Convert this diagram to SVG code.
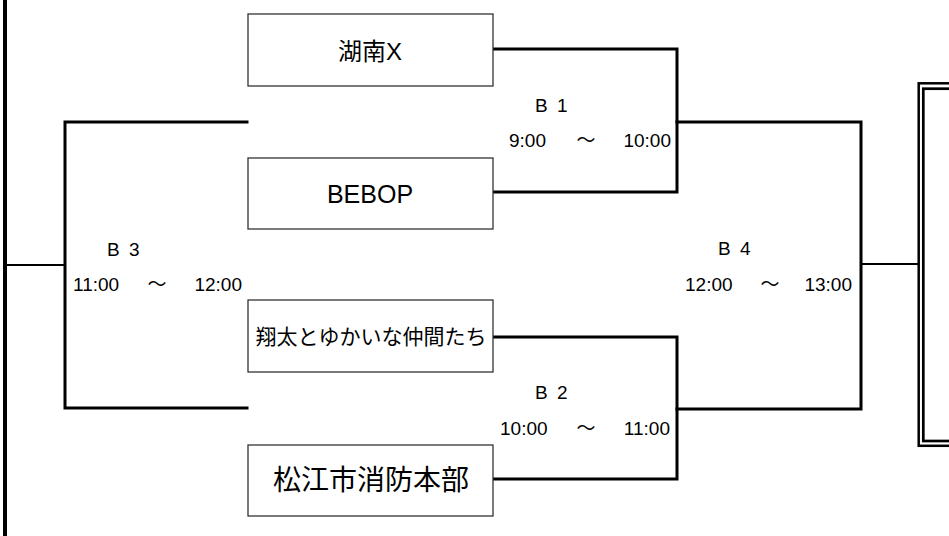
<svg xmlns="http://www.w3.org/2000/svg" width="949" height="536" viewBox="0 0 949 536">
<style>
.box{fill:#fff;stroke:#333;stroke-width:1.3}
.ln{fill:none;stroke:#000;stroke-width:3;stroke-linecap:square}
.thin{fill:none;stroke:#000;stroke-width:2}
.t{font-family:"Liberation Sans","Noto Sans CJK JP",sans-serif;fill:#000}
.lbl{font-family:"Liberation Sans","Noto Sans CJK JP",sans-serif;font-size:19px;fill:#000}
</style>
<rect width="949" height="536" fill="#fff"/>
<g id="connectors">
<line x1="5" y1="0" x2="5" y2="536" stroke="#000" stroke-width="4"/>
<polyline class="ln" points="493,49 677,49 677,192 493,192"/>
<polyline class="ln" points="493,337 677,337 677,479 493,479"/>
<polyline class="ln" points="247,122 65,122 65,408 247,408"/>
<polyline class="ln" points="677,122 861,122 861,409 677,409"/>
<line class="thin" x1="5" y1="265" x2="65" y2="265"/>
<line class="thin" x1="861" y1="264" x2="918" y2="264"/>
</g>
<g id="winner-box">
<rect x="918.7" y="83.3" width="60" height="362.5" fill="none" stroke="#000" stroke-width="2.5"/>
<rect x="923.3" y="88.7" width="60" height="352.3" fill="none" stroke="#000" stroke-width="2.7"/>
</g>
<g id="team-konan">
<rect class="box" x="248" y="14" width="245" height="72"/>
<text class="t" x="370" y="60" font-size="24" text-anchor="middle">湖南X</text>
</g>
<g id="team-bebop">
<rect class="box" x="248" y="158" width="245" height="71"/>
<text class="t" x="370" y="203" font-size="25" text-anchor="middle">BEBOP</text>
</g>
<g id="team-shota">
<rect class="box" x="248" y="300" width="245" height="72"/>
<text class="t" x="371" y="344" font-size="21" text-anchor="middle">翔太とゆかいな仲間たち</text>
</g>
<g id="team-matsue">
<rect class="box" x="248" y="445" width="245" height="71"/>
<text class="t" x="371" y="490" font-size="28" text-anchor="middle">松江市消防本部</text>
</g>
<g id="match-b1">
<text class="lbl" x="535" y="112">B <tspan dx="4">1</tspan></text>
<text class="lbl" x="509" y="147">9:00</text>
<text class="lbl" x="586" y="147" text-anchor="middle">～</text>
<text class="lbl" x="671" y="147" text-anchor="end">10:00</text>
</g>
<g id="match-b2">
<text class="lbl" x="535" y="399">B <tspan dx="4">2</tspan></text>
<text class="lbl" x="500" y="435">10:00</text>
<text class="lbl" x="586" y="435" text-anchor="middle">～</text>
<text class="lbl" x="670" y="435" text-anchor="end">11:00</text>
</g>
<g id="match-b3">
<text class="lbl" x="107" y="256">B <tspan dx="4">3</tspan></text>
<text class="lbl" x="73" y="291">11:00</text>
<text class="lbl" x="157" y="291" text-anchor="middle">～</text>
<text class="lbl" x="242" y="291" text-anchor="end">12:00</text>
</g>
<g id="match-b4">
<text class="lbl" x="718" y="255">B <tspan dx="4">4</tspan></text>
<text class="lbl" x="685" y="291">12:00</text>
<text class="lbl" x="770" y="291" text-anchor="middle">～</text>
<text class="lbl" x="852" y="291" text-anchor="end">13:00</text>
</g>
</svg>
